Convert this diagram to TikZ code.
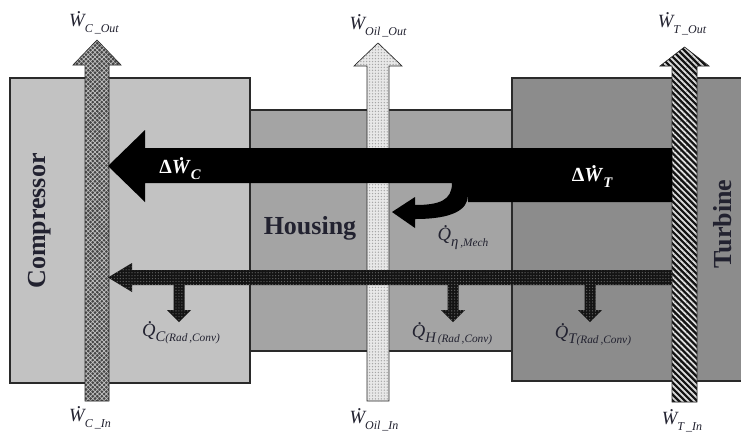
\documentclass[tikz,border=0pt]{standalone}
\usepackage{fontspec}
\setmainfont{Liberation Serif}
\usetikzlibrary{patterns.meta}
\definecolor{compbg}{HTML}{C2C2C2}
\definecolor{housbg}{HTML}{A4A4A4}
\definecolor{turbbg}{HTML}{8C8C8C}
\definecolor{edgec}{HTML}{2A2A2A}
\definecolor{labc}{HTML}{222230}
\newcommand\dotchar[3][0.67em]{\leavevmode\rlap{\kern#2\smash{\raisebox{#1}{\upshape.}}}#3}
\newcommand\Wlab[1]{{\fontsize{14}{14}\selectfont\itshape\dotchar{0.4em}{W}\raisebox{-0.35em}{\fontsize{9}{9}\selectfont #1}}}
\newcommand\Qlab[2]{{\fontsize{14}{14}\selectfont\itshape\dotchar[0.7em]{0.3em}{Q}\raisebox{-0.3em}{\fontsize{11}{11}\selectfont #1\fontsize{8.5}{9}\selectfont #2}}}
\begin{document}
\begin{tikzpicture}[x=0.75pt,y=-0.75pt,
  box/.style={draw=edgec,line width=1.1pt},
  lbl/.style={inner sep=0pt,text=labc},
  big/.style={inner sep=0pt,text=labc,font=\fontsize{19.5}{20}\selectfont\bfseries},
  shaftC/.style={draw=edgec,line width=0.5pt,preaction={fill=gray!55!black},
    pattern={Hatch[angle=45,distance=2.4pt,line width=0.5pt]},pattern color=gray!45},
  shaftO/.style={draw=edgec,line width=0.5pt,preaction={fill=gray!18},
    pattern={Dots[radius=0.55pt,distance=2.2pt]},pattern color=gray!70},
  shaftT/.style={draw=edgec,line width=0.5pt,preaction={fill=gray!15!black},
    pattern={Lines[angle=-45,distance=3.2pt,line width=1.3pt]},pattern color=gray!25},
  band/.style={preaction={fill=black!92},
    pattern={Dots[radius=0.5pt,distance=2.2pt]},pattern color=gray!75!black},
  workarrow/.style={fill=black}]
\useasboundingbox[fill=white] (0,0) rectangle (741,437);
% component boxes
\draw[box,fill=compbg] (10,78) rectangle (250,383);
\draw[box,fill=turbbg] (512,78) rectangle (746,381);
\draw[box,fill=housbg] (250,110) rectangle (512,351);
% shafts
\path[shaftC] (85,401) -- (85,65) -- (73,65) -- (97,40) -- (121,65) -- (109,65) -- (109,401) -- cycle;
\path[shaftO] (367,401) -- (367,66) -- (354,66) -- (378,43) -- (402,66) -- (389,66) -- (389,401) -- cycle;
\path[shaftT] (672,402) -- (672,66) -- (660,66) -- (684.5,47) -- (709,66) -- (697,66) -- (697,402) -- cycle;
% work flow arrow with mechanical loss branch
\path[workarrow] (672,148) -- (145,148) -- (145,130) -- (108,166) -- (145,202) -- (145,183)
  -- (452,183) .. controls (452,200) and (440,205) .. (415,205)
  -- (415,197) -- (392,212) -- (415,228) -- (415,219)
  .. controls (452,219) and (468,210) .. (468,195)
  -- (468,202) -- (672,202) -- cycle;
% heat flow arrow
\path[band] (672,270) -- (132,270) -- (132,263) -- (108,277.5) -- (132,292) -- (132,285) -- (672,285) -- cycle;
\foreach \c in {179,453,590}{
  \path[band] (\c-5.5,284) -- (\c-5.5,310) -- (\c-12,310) -- (\c,322) -- (\c+12,310) -- (\c+5.5,310) -- (\c+5.5,284) -- cycle;
}
% labels
\node[lbl] (wco) at (94,24) {\Wlab{C\,\_Out}};
\node[lbl] (woo) at (378,27) {\Wlab{Oil\,\_Out}};
\node[lbl] (wto) at (682,25) {\Wlab{T\,\_Out}};
\node[lbl] (wci) at (90,419) {\Wlab{C\,\_In}};
\node[lbl] (woi) at (374,421) {\Wlab{Oil\,\_In}};
\node[lbl] (wti) at (682,422) {\Wlab{T\,\_In}};
\node[inner sep=0pt,text=white,font=\fontsize{15}{15}\selectfont\bfseries] (dwc) at (180,170)
  {Δ\dotchar{0.36em}{\textit{W}}\raisebox{-0.3em}{\fontsize{11}{11}\selectfont\itshape C}};
\node[inner sep=0pt,text=white,font=\fontsize{15}{15}\selectfont\bfseries] (dwt) at (592,178)
  {Δ\dotchar{0.36em}{\textit{W}}\raisebox{-0.3em}{\fontsize{11}{11}\selectfont\itshape T}};
\node[lbl] (qm) at (463,239) {\Qlab{η}{\,,Mech}};
\node[lbl] (qc) at (181,334) {\Qlab{C}{(Rad\,,Conv)}};
\node[lbl] (qh) at (452,335) {\Qlab{H}{\,(Rad\,,Conv)}};
\node[lbl] (qt) at (593,336) {\Qlab{T}{(Rad\,,Conv)}};
\node[big,rotate=90] (comp) at (40,221) {Compressor};
\node[big,rotate=90] (turb) at (723,224) {Turbine};
\node[big] (hous) at (310,228) {Housing};
\end{tikzpicture}
\end{document}
